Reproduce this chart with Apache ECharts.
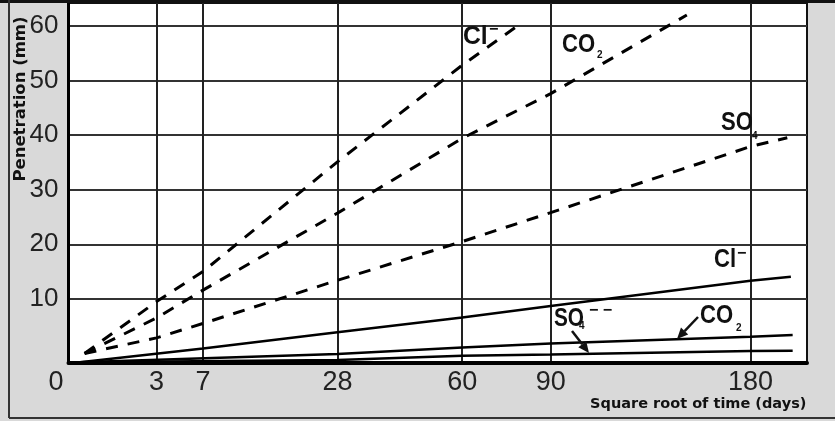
<!DOCTYPE html>
<html><head><meta charset="utf-8">
<script src="https://cdn.jsdelivr.net/npm/echarts@6/dist/echarts.min.js"></script>
<style>html,body{margin:0;padding:0;background:#d9d9d9}#c{width:835px;height:421px}</style>
</head><body><div id="c"></div>
<script>
// Tick labels
const xTickDays = [0, 3, 7, 28, 60, 90, 180];
const yTickValues = [10, 20, 30, 40, 50, 60];
// Series: [days, penetration mm]
const clDashed  = [[0.1, 0], [3, 9.5], [7, 15], [28, 35.1], [60, 52.8], [78, 60]];
const co2Dashed = [[0.1, 0], [3, 6.5], [7, 11.6], [28, 25.7], [60, 39.4], [90, 47.6], [148, 62]];
const so4Dashed = [[0.1, 0], [3, 2.85], [7, 5.5], [28, 13.4], [60, 20.5], [90, 25.8], [180, 37.9], [200, 39.5]];
const clSolid   = [[0.05, -1.6], [7, 0.9], [28, 3.9], [60, 6.6], [90, 8.7], [180, 13.3], [202, 14.05]];
const co2Solid  = [[0.05, -1.6], [28, -0.1], [60, 1.1], [90, 1.8], [180, 3.05], [203, 3.4]];
const so4Solid  = [[0.05, -1.6], [28, -1.2], [60, -0.4], [90, -0.2], [180, 0.45], [203, 0.5]];

const toSqrt = arr => arr.map(([d, v]) => [Math.sqrt(d), v]);
const chart = echarts.init(document.getElementById('c'), null, {renderer: 'canvas'});

const LBL = '"Liberation Sans", Arial, sans-serif';
const BOLD = 'bold 26px "Liberation Sans", Arial, sans-serif';

function txt(text, x, y, font, sx) {
  return {type: 'text', x: x, y: y, scaleX: sx || 1, z: 100,
    style: {text: text, font: font, fill: '#111', textAlign: 'left', textVerticalAlign: 'middle'}};
}
function arrow(x1, y1, x2, y2) {
  const dx = x2 - x1, dy = y2 - y1, L = Math.hypot(dx, dy), ux = dx / L, uy = dy / L;
  const hl = 11, hw = 5;
  const bx = x2 - ux * hl, by = y2 - uy * hl;
  return [
    {type: 'line', z: 100, shape: {x1: x1, y1: y1, x2: bx, y2: by}, style: {stroke: '#111', lineWidth: 2.5}},
    {type: 'polygon', z: 100, shape: {points: [[x2, y2], [bx - uy * hw, by + ux * hw], [bx + uy * hw, by - ux * hw]]}, style: {fill: '#111'}}
  ];
}

const graphics = [
  {type: 'rect', z: 50, shape: {x: 0, y: 0, width: 835, height: 3}, style: {fill: '#111'}},
  {type: 'line', z: 50, shape: {x1: 9, y1: 0, x2: 9, y2: 418}, style: {stroke: '#333', lineWidth: 2}},
  {type: 'line', z: 50, shape: {x1: 9, y1: 418, x2: 835, y2: 418}, style: {stroke: '#333', lineWidth: 2}},
  txt('Cl', 463, 37, BOLD, 0.95), txt('\u2212', 489, 30, 'bold 16px ' + LBL),
  txt('CO', 562, 45, BOLD, 0.85), txt('2', 597, 55, 'bold 10px ' + LBL),
  txt('SO', 721, 123, BOLD, 0.85), txt('4', 752, 136, 'bold 10px ' + LBL),
  txt('Cl', 714, 260, BOLD, 0.85), txt('\u2212', 737, 254, 'bold 16px ' + LBL),
  txt('SO', 554, 319, BOLD, 0.8), txt('4', 579, 326, 'bold 10px ' + LBL),
  txt('\u2212 \u2212', 589, 311, 'bold 16px ' + LBL),
  txt('CO', 700, 316, BOLD, 0.85), txt('2', 736, 328, 'bold 10px ' + LBL),
  ...arrow(572, 331, 589, 353),
  ...arrow(698, 317, 677, 339)
];

function lineSeries(name, data, dashed) {
  return {
    name: name, type: 'line', data: toSqrt(data), showSymbol: false, symbol: 'none',
    lineStyle: dashed ? {color: '#000', width: 3, type: [12, 10]} : {color: '#000', width: 2.5},
    z: 5, animation: false
  };
}

chart.setOption({
  backgroundColor: '#d9d9d9',
  animation: false,
  grid: {left: 68.5, right: 28, top: 3, bottom: 58, show: true, backgroundColor: '#fff', borderColor: '#111', borderWidth: 2,
         containLabel: false, outerBoundsMode: 'none'},
  xAxis: {
    type: 'value', min: 0, max: 14.53,
    name: 'Square root of time (days)', nameLocation: 'middle', nameGap: 33, nameMoveOverlap: false,
    nameTextStyle: {fontFamily: 'DejaVu Sans', fontWeight: 'bold', fontSize: 14.5, color: '#111', padding: [0, 0, 0, 521], lineHeight: 16},
    axisLine: {show: true, onZero: false, lineStyle: {color: '#000', width: 4}},
    axisTick: {show: false, customValues: xTickDays.map(Math.sqrt)},
    splitLine: {show: true, lineStyle: {color: '#222', width: 2}},
    axisLabel: {
      customValues: xTickDays.map(Math.sqrt), margin: 6,
      fontFamily: 'Liberation Sans', fontSize: 27, color: '#222',
      formatter: v => { const d = Math.round(v * v); return d === 0 ? '{z|0}' : String(d); },
      rich: {z: {fontFamily: 'Liberation Sans', fontSize: 27, color: '#222', padding: [0, 25, 0, 0]}}
    }
  },
  yAxis: {
    type: 'value', min: -1.75, max: 64.2,
    name: 'Penetration (mm)', nameLocation: 'middle', nameGap: 39, nameRotate: 90, nameMoveOverlap: false,
    nameTextStyle: {fontFamily: 'DejaVu Sans', fontWeight: 'bold', fontSize: 16.5, color: '#111', padding: [0, 0, 0, 168]},
    axisLine: {show: true, onZero: false, lineStyle: {color: '#000', width: 3}},
    axisTick: {show: false, customValues: yTickValues},
    splitLine: {show: true, lineStyle: {color: '#333', width: 2}},
    axisLabel: {customValues: yTickValues, margin: 10, fontFamily: 'Liberation Sans', fontSize: 26, color: '#222'}
  },
  graphic: graphics,
  series: [
    lineSeries('Cl- (dashed)', clDashed, true),
    lineSeries('CO2 (dashed)', co2Dashed, true),
    lineSeries('SO4 (dashed)', so4Dashed, true),
    lineSeries('Cl- (solid)', clSolid, false),
    lineSeries('CO2 (solid)', co2Solid, false),
    lineSeries('SO4-- (solid)', so4Solid, false)
  ]
});
</script></body></html>
